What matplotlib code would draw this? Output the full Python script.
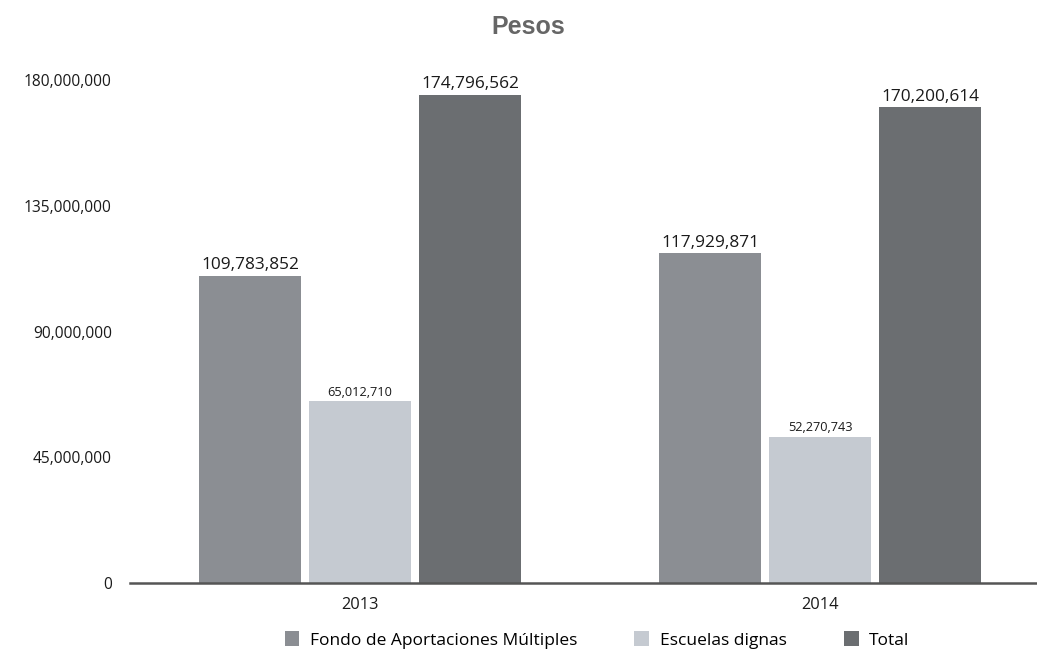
import matplotlib as mpl
import matplotlib.pyplot as plt
import numpy as np
from matplotlib.patches import Patch

mpl.rcParams["font.family"] = "Open Sans"

years = ["2013", "2014"]
series = ["Fondo de Aportaciones Múltiples", "Escuelas dignas", "Total"]
fondo = [109783852, 117929871]
escuelas = [65012710, 52270743]
total = [174796562, 170200614]
y_ticks = [0, 45000000, 90000000, 135000000, 180000000]

colors = ["#8b8e93", "#c5cad1", "#6b6e71"]
label_sizes = [12.4, 9.2, 12.4]
TEXT = "#1a1a1a"

fig = plt.figure(figsize=(10.37, 6.49), dpi=100)
ax = fig.add_axes([130 / 1037, 66 / 649, 907 / 1037, 503 / 649])

x = np.arange(len(years))
width = 0.2217
step = 0.239
for i, (vals, color, fs) in enumerate(zip([fondo, escuelas, total], colors, label_sizes)):
    pos = x + (i - 1) * step
    ax.bar(pos, vals, width, color=color, linewidth=0)
    for px, v in zip(pos, vals):
        ax.annotate(f"{v:,}", (px, v), xytext=(0, 2), textcoords="offset points",
                    ha="center", va="bottom", fontsize=fs, color=TEXT,
                    annotation_clip=False)

ax.set_xlim(-0.5, 1.4717)
ax.set_ylim(0, 180000000)
ax.set_xticks(x)
ax.set_xticklabels(years, fontsize=11.8, color=TEXT)
ax.set_yticks(y_ticks)
ax.set_yticklabels([f"{t:,}" for t in y_ticks], fontsize=11.2, color=TEXT)
ax.tick_params(axis="both", length=0)
ax.tick_params(axis="y", pad=13)
ax.tick_params(axis="x", pad=10)

for side in ["top", "right", "left"]:
    ax.spines[side].set_visible(False)
ax.spines["bottom"].set_color("#555555")
ax.spines["bottom"].set_linewidth(1.8)

fig.text(528 / 1037, 1 - 27 / 649, "Pesos", family="Liberation Sans", fontweight="bold",
         fontsize=18, color="#666666", ha="center", va="center")

handles = [Patch(facecolor=c, edgecolor="none", label=s) for c, s in zip(colors, series)]
fig.legend(handles=handles, loc="center", bbox_to_anchor=(597 / 1037, 1 - 640 / 649),
           ncol=3, frameon=False, fontsize=12.5, handlelength=0.85, handleheight=0.95,
           handletextpad=0.6, columnspacing=3.3, borderpad=0)

plt.savefig("out.png", dpi=100)
